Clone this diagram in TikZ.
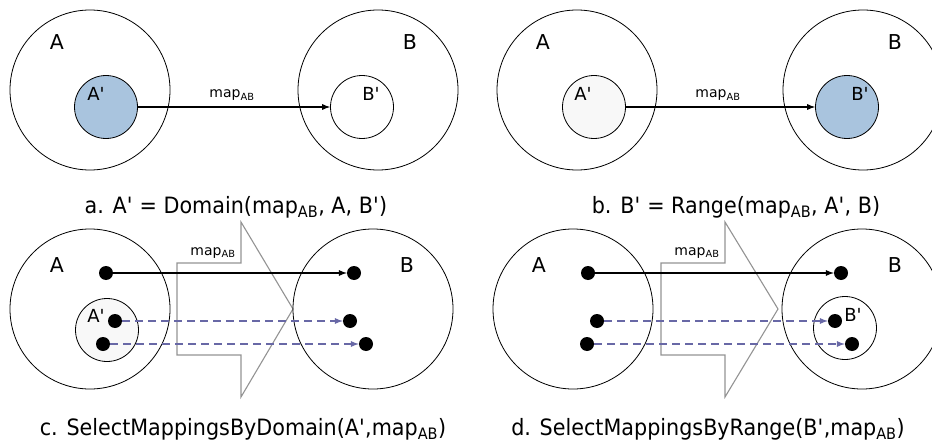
\documentclass[tikz,border=0pt]{standalone}
\usepackage{fontspec}
\setmainfont{DejaVu Sans}
\newfontfamily\capfont[FakeStretch=0.92]{DejaVu Sans}
\usepackage{tikz}
\definecolor{selblue}{RGB}{169,196,222}
\definecolor{mapdash}{RGB}{104,104,166}
\definecolor{lightset}{RGB}{248,248,248}
\newcommand{\prm}{\textquotesingle}
\newcommand{\mapAB}{map\textsubscript{AB}}
\tikzset{
  bigset/.style={circle,draw=black,line width=0.8pt,minimum size=160pt,inner sep=0pt},
  subset/.style={circle,draw=black,line width=0.8pt,minimum size=63pt,inner sep=0pt},
  elem/.style={circle,fill=black,minimum size=14pt,inner sep=0pt},
  setname/.style={anchor=base,inner sep=0pt,font=\fontsize{20.5}{20.5}\selectfont},
  subname/.style={anchor=base,inner sep=0pt,font=\fontsize{18}{18}\selectfont},
  maplbl/.style={anchor=base,inner sep=0pt,font=\fontsize{14}{14}\selectfont},
  captext/.style={anchor=base,inner sep=0pt,font=\capfont\fontsize{22.5}{22.5}\selectfont},
  maparrow/.style={-latex,line width=1.7pt},
  selarrow/.style={-latex,line width=1.7pt,mapdash,dash pattern=on 8pt off 5pt},
  blockarrow/.style={draw=gray!85,line width=1.1pt}
}

\begin{document}
\begin{tikzpicture}[x=1pt,y=-1pt]
  \useasboundingbox (0,0) rectangle (932,444);
  \clip (0,0) rectangle (932,444);

  % a. domain
  \node[bigset] (A1) at (90,90) {};
  \node[bigset] (B1) at (378,90) {};
  \node[subset,fill=selblue] (Ap1) at (106,107) {};
  \node[subset] (Bp1) at (362,107) {};
  \node[setname] (nA1) at (57,50) {A};
  \node[setname] (nB1) at (410,50) {B};
  \node[subname] (nAp1) at (96,100) {A\prm};
  \node[subname] (nBp1) at (371,100) {B\prm};
  \draw[maparrow] (Ap1) -- (Bp1);
  \node[maplbl] (m1) at (232,98) {\mapAB};
  \node[captext] (cap1) at (236,213) {a. A\prm{} = Domain(\mapAB, A, B\prm)};

  % b. range
  \node[bigset] (A2) at (577,90) {};
  \node[bigset] (B2) at (863,90) {};
  \node[subset,fill=lightset] (Ap2) at (594,107) {};
  \node[subset,fill=selblue] (Bp2) at (847,107) {};
  \node[setname] (nA2) at (543,50) {A};
  \node[setname] (nB2) at (895,50) {B};
  \node[subname] (nAp2) at (583,100) {A\prm};
  \node[subname] (nBp2) at (860,100) {B\prm};
  \draw[maparrow] (Ap2) -- (Bp2);
  \node[maplbl] (m2) at (718,98) {\mapAB};
  \node[captext] (cap2) at (736,213) {b. B\prm{} = Range(\mapAB, A\prm, B)};

  % c. select by domain
  \draw[blockarrow] (177,263) -- (241,263) -- (241,222) -- (293,309)
    -- (241,397) -- (241,355) -- (177,355) -- cycle;
  \node[bigset] (A3) at (90,309) {};
  \node[bigset] (B3) at (373,309) {};
  \node[subset,fill=lightset] (Ap3) at (107,330) {};
  \node[setname] (nA3) at (57,272) {A};
  \node[setname] (nB3) at (407,272) {B};
  \node[subname] (nAp3) at (96,322) {A\prm};
  \node[maplbl] (m3) at (213,255) {\mapAB};
  \node[elem] (a31) at (106,273) {};
  \node[elem] (a32) at (115,321) {};
  \node[elem] (a33) at (103,344) {};
  \node[elem] (b31) at (354,273) {};
  \node[elem] (b32) at (350,321) {};
  \node[elem] (b33) at (366,344) {};
  \draw[maparrow] (a31) -- (b31);
  \draw[selarrow] (a32) -- (b32);
  \draw[selarrow] (a33) -- (b33);
  \node[captext] (cap3) at (243,435) {c. SelectMappingsByDomain(A\prm,\mapAB)};

  % d. select by range
  \draw[blockarrow] (661,263) -- (725,263) -- (725,222) -- (778,309)
    -- (725,397) -- (725,355) -- (661,355) -- cycle;
  \node[bigset] (A4) at (573,309) {};
  \node[bigset] (B4) at (862,309) {};
  \node[subset] (Bp4) at (845,328) {};
  \node[setname] (nA4) at (539,272) {A};
  \node[setname] (nB4) at (895,272) {B};
  \node[subname] (nBp4) at (853,321) {B\prm};
  \node[maplbl] (m4) at (697,255) {\mapAB};
  \node[elem] (a41) at (588,273) {};
  \node[elem] (a42) at (597,321) {};
  \node[elem] (a43) at (587,344) {};
  \node[elem] (b41) at (841,273) {};
  \node[elem] (b42) at (835,321) {};
  \node[elem] (b43) at (852,344) {};
  \draw[maparrow] (a41) -- (b41);
  \draw[selarrow] (a42) -- (b42);
  \draw[selarrow] (a43) -- (b43);
  \node[captext] (cap4) at (708,435) {d. SelectMappingsByRange(B\prm,\mapAB)};
\end{tikzpicture}
\end{document}
